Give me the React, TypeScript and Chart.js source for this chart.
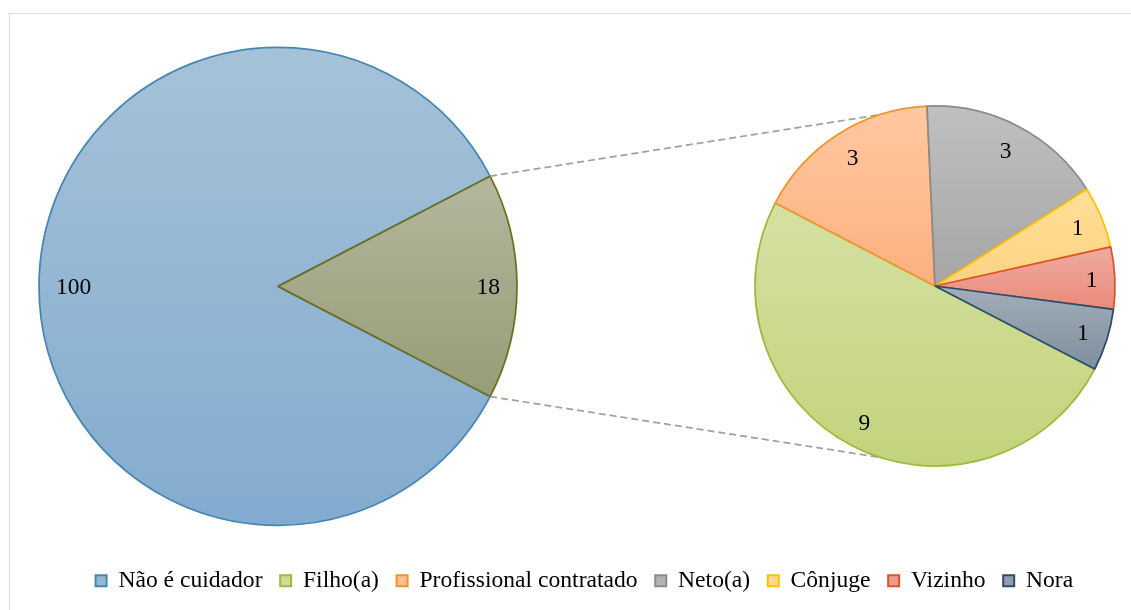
import React, { useEffect, useRef } from "react";
import { Chart, registerables } from "chart.js";

Chart.register(...registerables);

// ---- data ----
const mainLabels = ["Não é cuidador", "Outros"];
const mainValues = [100, 18];
const detailLabels = ["Filho(a)", "Profissional contratado", "Neto(a)", "Cônjuge", "Vizinho", "Nora"];
const detailValues = [9, 3, 3, 1, 1, 1];

// ---- styles ----
const FONT = "'Liberation Serif', 'Times New Roman', serif";
const mainTop = ["#a5c2d8", "#b4b79d"];
const mainBottom = ["#83abcf", "#979c76"];
const mainBorder = ["#4686b4", "#6b7021"];
const detailTop = ["#d5e1a3", "#ffc8a2", "#c0c0c0", "#ffdf98", "#edaba0", "#a2aeb9"];
const detailBottom = ["#c3d37b", "#fdb07f", "#a5a5a5", "#fdd383", "#eb8b7b", "#7f8f9e"];
const detailBorder = ["#9bbb3c", "#f59426", "#8a8a8a", "#ffc000", "#df5229", "#2b4c6a"];
const legendFill = ["#97b8d4", "#cddb96", "#fdbe91", "#b4b4b4", "#ffda8c", "#ec9b8c", "#919fac"];

const legendNames = [mainLabels[0], ...detailLabels];
const legendBorder = [mainBorder[0], ...detailBorder];

const sum = (a: number[]) => a.reduce((s, v) => s + v, 0);
// rotation so that the aggregated slice is centred at 3 o'clock
const ROTATION = 90 + (180 * mainValues[1]) / sum(mainValues);
const MAIN_R = 239;
const DETAIL_R = 180;

function sectorYRange(cy: number, r: number, s: number, e: number): [number, number] {
  let min = cy;
  let max = cy;
  const pts = [s, e];
  for (let k = -720; k <= 1080; k += 90) if (k > s && k < e) pts.push(k);
  for (const d of pts) {
    const y = cy + r * Math.sin((d * Math.PI) / 180);
    min = Math.min(min, y);
    max = Math.max(max, y);
  }
  return [min, max];
}

function gradientFill(values: number[], tops: string[], bottoms: string[], radius: number) {
  return (ctx: any) => {
    const chart = ctx.chart;
    const area = chart.chartArea;
    const i = ctx.dataIndex ?? 0;
    if (!area) return tops[i];
    const cy = (area.top + area.bottom) / 2;
    const total = sum(values);
    let cum = 0;
    for (let k = 0; k < i; k++) cum += values[k];
    const start = ROTATION - 90 + (cum / total) * 360;
    const end = start + (values[i] / total) * 360;
    const [y0, y1] = sectorYRange(cy, radius, start, end);
    const g = chart.ctx.createLinearGradient(0, y0, 0, y1);
    g.addColorStop(0, tops[i]);
    g.addColorStop(1, bottoms[i]);
    return g;
  };
}

const labelPlugin = {
  id: "sliceLabels",
  afterDatasetsDraw(chart: any) {
    const ctx = chart.ctx;
    const meta = chart.getDatasetMeta(0);
    const data = chart.data.datasets[0].data as number[];
    const size = 23.5;
    ctx.save();
    ctx.font = `${size}px ${FONT}`;
    ctx.fillStyle = "#000";
    ctx.textAlign = "center";
    ctx.textBaseline = "alphabetic";
    meta.data.forEach((arc: any, i: number) => {
      const p = arc.getProps(["x", "y", "startAngle", "endAngle", "outerRadius"], true);
      const mid = (p.startAngle + p.endAngle) / 2;
      const text = String(data[i]);
      const hw = ctx.measureText(text).width / 2;
      const hh = size * 0.338;
      const c = Math.cos(mid);
      const s = Math.sin(mid);
      const d = 17 + Math.abs(c) * hw + Math.abs(s) * hh;
      const x = p.x + (p.outerRadius - d) * c;
      const y = p.y + (p.outerRadius - d) * s;
      ctx.fillText(text, x, y + hh);
    });
    ctx.restore();
  },
};

export default function App() {
  const leftRef = useRef<HTMLCanvasElement | null>(null);
  const rightRef = useRef<HTMLCanvasElement | null>(null);

  useEffect(() => {
    Chart.defaults.font.family = FONT;
    const left = new Chart(leftRef.current as HTMLCanvasElement, {
      type: "pie",
      data: {
        labels: mainLabels,
        datasets: [
          {
            data: mainValues,
            backgroundColor: gradientFill(mainValues, mainTop, mainBottom, MAIN_R) as any,
            borderColor: mainBorder,
            borderWidth: 1.75,
            rotation: ROTATION,
            radius: MAIN_R,
          } as any,
        ],
      },
      options: {
        responsive: false,
        animation: false,
        layout: { padding: { left: 37.75, right: 0, top: 21.5, bottom: 7.5 } },
        plugins: {
          tooltip: { enabled: false },
          title: {
            display: true,
            position: "right",
            fullSize: false,
            text: "",
            font: { size: 10 },
            padding: { top: 600.75, bottom: 0 },
          },
          legend: {
            display: true,
            position: "bottom",
            align: "center",
            labels: {
              boxWidth: 11,
              boxHeight: 11,
              padding: 17.65,
              color: "#000",
              font: { size: 23.6, family: FONT },
              generateLabels: () =>
                legendNames.map((text, i) => ({
                  text,
                  fillStyle: legendFill[i],
                  strokeStyle: legendBorder[i],
                  lineWidth: 2,
                  hidden: false,
                  index: i,
                  fontColor: "#000",
                })),
            },
          },
        },
      } as any,
      plugins: [labelPlugin],
    });

    const connectorPlugin = {
      id: "connectors",
      beforeDatasetsDraw(chart: any) {
        const lm = left.getDatasetMeta(0).data[1] as any;
        const rm = chart.getDatasetMeta(0).data[0] as any;
        if (!lm || !rm) return;
        const a = lm.getProps(["x", "y", "startAngle", "endAngle", "outerRadius"], true);
        const b = rm.getProps(["x", "y", "outerRadius"], true);
        const ctx = chart.ctx;
        ctx.save();
        ctx.strokeStyle = "#a0a0a0";
        ctx.lineWidth = 1.75;
        ctx.setLineDash([7, 4]);
        ctx.beginPath();
        ctx.moveTo(a.x + a.outerRadius * Math.cos(a.startAngle), a.y + a.outerRadius * Math.sin(a.startAngle));
        ctx.lineTo(b.x, b.y - b.outerRadius);
        ctx.moveTo(a.x + a.outerRadius * Math.cos(a.endAngle), a.y + a.outerRadius * Math.sin(a.endAngle));
        ctx.lineTo(b.x, b.y + b.outerRadius);
        ctx.stroke();
        ctx.restore();
      },
    };

    const right = new Chart(rightRef.current as HTMLCanvasElement, {
      type: "pie",
      data: {
        labels: detailLabels,
        datasets: [
          {
            data: detailValues,
            backgroundColor: gradientFill(detailValues, detailTop, detailBottom, DETAIL_R) as any,
            borderColor: detailBorder,
            borderWidth: 1.75,
            rotation: ROTATION,
            radius: DETAIL_R,
          } as any,
        ],
      },
      options: {
        responsive: false,
        animation: false,
        layout: { padding: { left: 745, right: 6, top: 96, bottom: 134 } },
        plugins: {
          tooltip: { enabled: false },
          legend: { display: false },
          title: { display: false },
        },
      } as any,
      plugins: [connectorPlugin, labelPlugin],
    });

    return () => {
      right.destroy();
      left.destroy();
    };
  }, []);

  const abs: React.CSSProperties = { position: "absolute", left: 0, top: 0 };
  return (
    <div style={{ position: "fixed", left: 0, top: 0, width: 1131, height: 610, overflow: "hidden", background: "#fff" }}>
      <div
        style={{
          position: "absolute",
          left: 9,
          top: 13,
          width: 1200,
          height: 700,
          border: "1px solid #d9d9d9",
          boxSizing: "border-box",
        }}
      />
      <canvas ref={leftRef} width={1131} height={610} style={abs} />
      <canvas ref={rightRef} width={1131} height={610} style={abs} />
    </div>
  );
}
